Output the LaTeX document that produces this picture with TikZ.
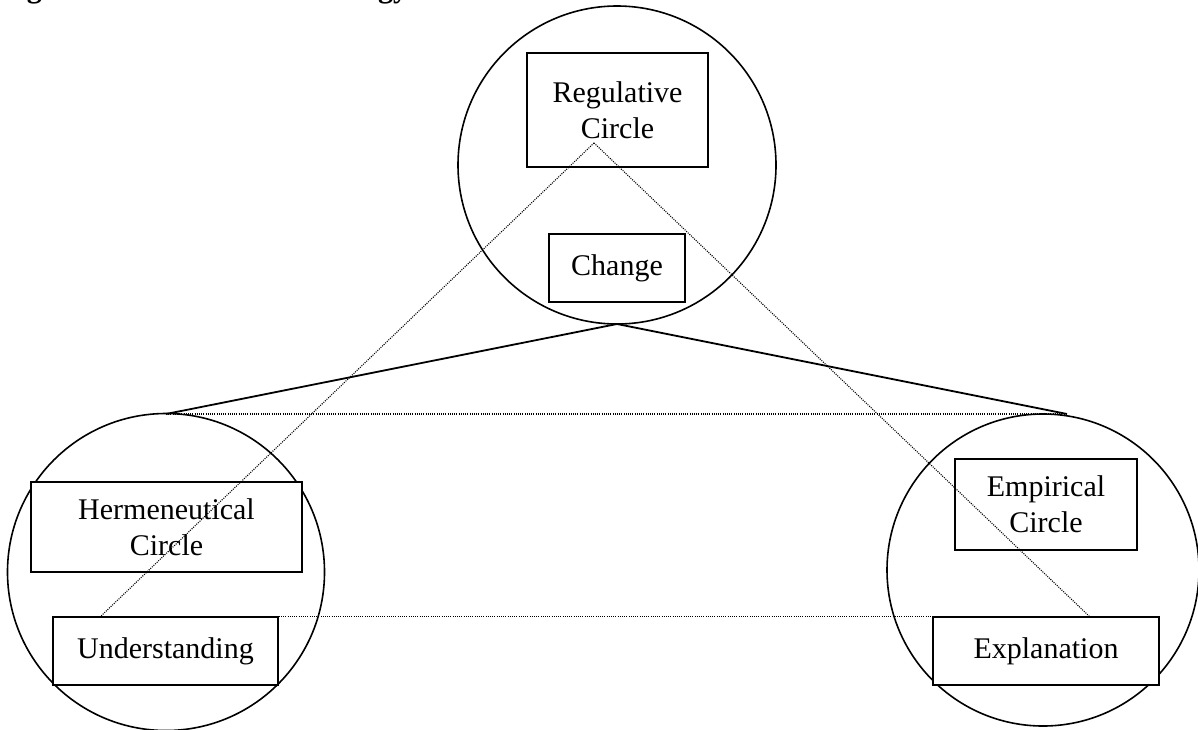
\documentclass[tikz,border=0pt]{standalone}
\usepackage{fontspec}
\setmainfont{Liberation Serif}
\begin{document}
\begin{tikzpicture}[x=1pt,y=1pt,
  ring/.style={draw,circle,line width=1.6pt,inner sep=0pt},
  lbox/.style={draw,fill=white,line width=1.6pt,inner sep=0pt,align=center,
    font=\fontsize{30}{36}\selectfont},
  dots/.style={line width=1.1pt,dash pattern=on 1pt off 1.2pt},
  solidline/.style={line width=1.8pt}]
\clip (0,0) rectangle (1198,-729);
\fill[white] (0,0) rectangle (1198,-729);
% title
\node[anchor=base west,inner sep=0pt,font=\fontsize{30}{36}\selectfont\bfseries] (title) at (0,3) {Figure 1 Research Methodology};
% circles
\node[ring,minimum size=318pt] (top) at (617,-165) {};
\node[ring,minimum size=317pt] (left) at (166,-572) {};
\node[ring,minimum size=312pt] (right) at (1043,-570) {};
% boxes
\node[lbox,minimum width=181pt,minimum height=114pt] (reg) at (617.5,-110) {Regulative\\Circle};
\node[lbox,minimum width=136pt,minimum height=68pt] (chg) at (617,-268) {Change};
\node[lbox,minimum width=271pt,minimum height=90pt] (herm) at (166.5,-527) {Hermeneutical\\Circle};
\node[lbox,minimum width=225pt,minimum height=68pt] (und) at (165.5,-651) {Understanding};
\node[lbox,minimum width=182pt,minimum height=91pt] (emp) at (1046,-504.5) {Empirical\\Circle};
\node[lbox,minimum width=226pt,minimum height=68pt] (expl) at (1046,-651) {Explanation};
% coordinates
\coordinate (apex) at (594,-143);
\coordinate (ltop) at (166,-414);
\coordinate (rtop) at (1067,-414);
\coordinate (tbot) at (617,-324);
\coordinate (uend) at (100,-617);
\coordinate (eend) at (1090,-617);
% solid lines
\draw[solidline] (ltop) -- (tbot) -- (rtop);
% dotted lines
\draw[dots] (ltop) -- (rtop);
\draw[dots] (apex) -- (uend);
\draw[dots] (apex) -- (eend);
\draw[dots] (und.north east) -- (expl.north west);
\end{tikzpicture}
\end{document}
